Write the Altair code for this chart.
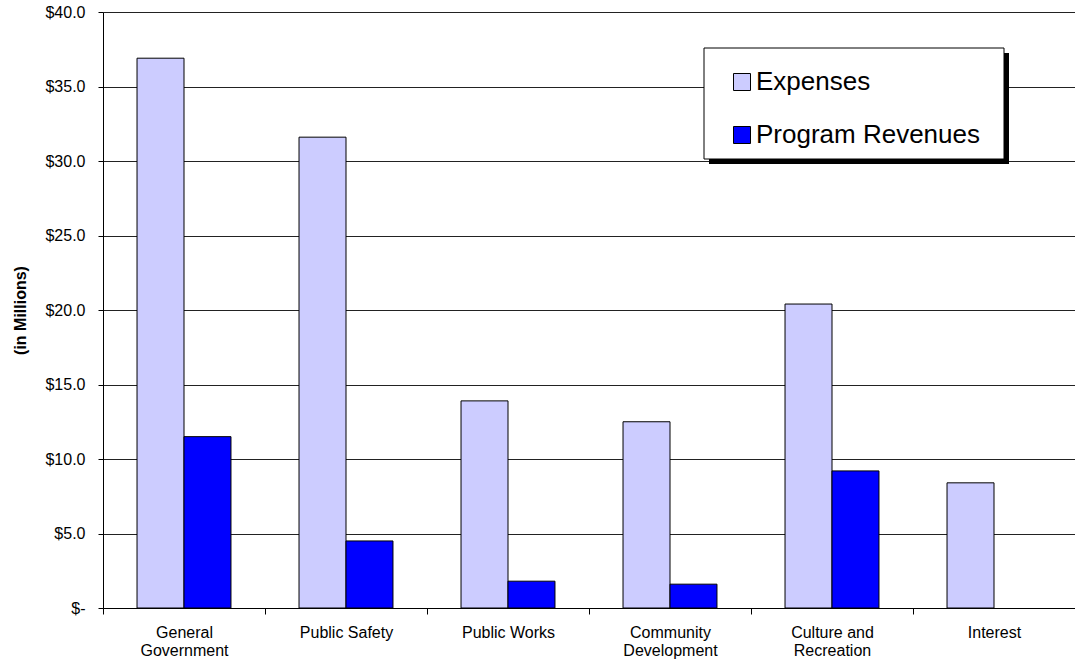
import altair as alt
import pandas as pd

categories = ["General Government", "Public Safety", "Public Works",
              "Community Development", "Culture and Recreation", "Interest"]
expenses = [36.9, 31.6, 13.9, 12.5, 20.4, 8.4]
revenues = [11.5, 4.5, 1.8, 1.6, 9.2, 0.0]
series = ["Expenses", "Program Revenues"]
colors = ["#CCCCFF", "#0000FF"]
y_ticks = [0, 5, 10, 15, 20, 25, 30, 35, 40]

rows = []
for c, e, r in zip(categories, expenses, revenues):
    rows.append({"Function": c, "Series": series[0], "Value": e})
    rows.append({"Function": c, "Series": series[1], "Value": r})
df = pd.DataFrame(rows)

FONT = "Liberation Sans"
NB = "\u00a0"

x_label_expr = (
    "datum.label == 'General Government' ? ['General', 'Government'] : "
    "datum.label == 'Community Development' ? ['Community', 'Development'] : "
    "datum.label == 'Culture and Recreation' ? ['Culture and', 'Recreation'] : datum.label"
)
y_label_expr = "datum.value == 0 ? '$-" + NB * 4 + "' : '$' + format(datum.value, '.1f')"

bars = alt.Chart(df).mark_bar(stroke="black").encode(
    x=alt.X("Function:N", sort=categories, title=None,
            scale=alt.Scale(paddingInner=0, paddingOuter=0),
            axis=alt.Axis(labelAngle=0, tickBand="extent", tickSize=6,
                          tickColor="black", domainColor="black",
                          labelFont=FONT, labelFontSize=16, labelColor="black",
                          labelPadding=10, labelLineHeight=18,
                          labelExpr=x_label_expr, grid=False, labelLimit=200)),
    xOffset=alt.XOffset("Series:N", sort=series,
                        scale=alt.Scale(paddingInner=0, paddingOuter=0.724)),
    y=alt.Y("Value:Q", title="(in Millions)",
            scale=alt.Scale(domain=[0, 40], nice=False),
            axis=alt.Axis(values=y_ticks, tickSize=5, tickColor="black",
                          domainColor="black", gridColor="#222222",
                          gridWidth=1, labelFont=FONT, labelFontSize=16,
                          labelColor="black", labelPadding=13,
                          labelExpr=y_label_expr,
                          titleFont=FONT, titleFontSize=16, titleFontWeight="bold",
                          titleColor="black", titleX=-78, titleY=298,
                          titleAngle=270, titleBaseline="alphabetic")),
    strokeWidth=alt.condition("datum.Value > 0", alt.value(1), alt.value(0)),
    color=alt.Color("Series:N", sort=series,
                    scale=alt.Scale(domain=series, range=colors),
                    legend=alt.Legend(title=None, orient="none", legendX=626, legendY=57,
                                      symbolType="square", symbolSize=289,
                                      symbolStrokeColor="black", symbolStrokeWidth=1,
                                      labelFont=FONT, labelFontSize=26,
                                      labelColor="black", labelOffset=1,
                                      rowPadding=27, labelLimit=400)),
)

deco = pd.DataFrame({"d": [0]})
shadow = alt.Chart(deco).mark_rect(color="black").encode(
    x=alt.value(606), x2=alt.value(906), y=alt.value(41), y2=alt.value(152))
box = alt.Chart(deco).mark_rect(fill="white", stroke="black", strokeWidth=1).encode(
    x=alt.value(601), x2=alt.value(901), y=alt.value(36), y2=alt.value(147))

chart = alt.layer(shadow, box, bars).properties(
    width=972, height=596,
    padding={"left": 103, "top": 12, "right": 0, "bottom": 58},
    autosize=alt.AutoSizeParams(type="none"),
).configure_view(stroke=None).configure(background="white")

chart.save("out.html", embed_options={"renderer": "svg", "actions": False})
